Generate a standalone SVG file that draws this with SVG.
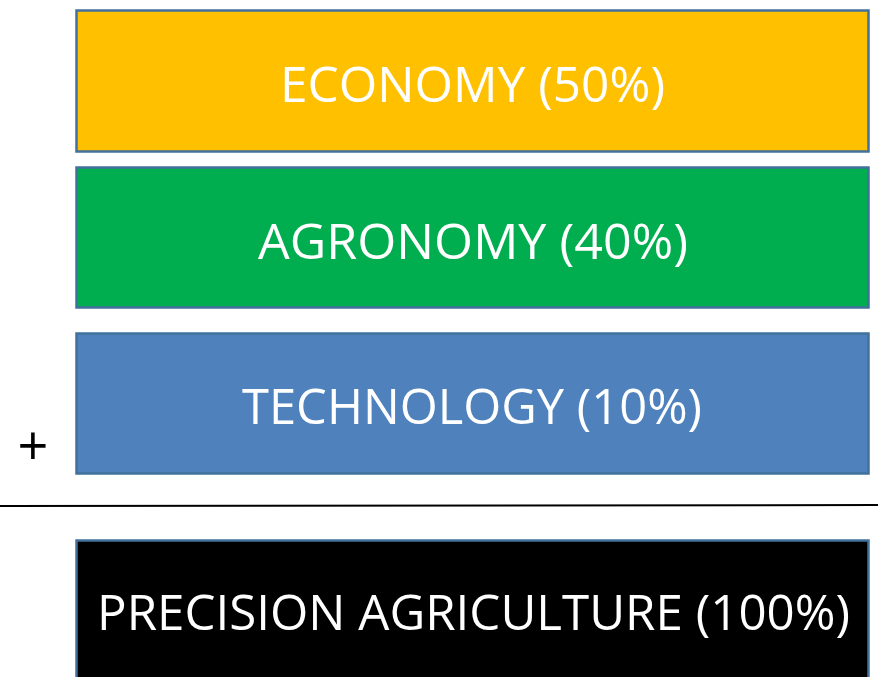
<svg xmlns="http://www.w3.org/2000/svg" width="878" height="677" viewBox="0 0 878 677">
<style>
.box{stroke:#41719C;stroke-width:2.5}
.lbl{font-family:"Open Sans","Liberation Sans",sans-serif;font-size:50px;fill:#FFFFFF;text-anchor:middle}
</style>
<rect width="878" height="677" fill="#FFFFFF"/>
<g id="economy">
<rect class="box" x="76.5" y="10.5" width="792" height="141" fill="#FFC000"/>
<text class="lbl" x="472.5" y="102" textLength="385" lengthAdjust="spacingAndGlyphs">ECONOMY (50%)</text>
</g>
<g id="agronomy">
<rect class="box" x="76.5" y="167.5" width="792" height="140" fill="#00AD4F"/>
<text class="lbl" x="473" y="259" textLength="430" lengthAdjust="spacingAndGlyphs">AGRONOMY (40%)</text>
</g>
<g id="technology">
<rect class="box" x="76.5" y="333.5" width="792" height="140" fill="#4F81BD"/>
<text class="lbl" x="472" y="424" textLength="460" lengthAdjust="spacingAndGlyphs">TECHNOLOGY (10%)</text>
</g>
<g id="plus">
<text x="33" y="465" font-family="Open Sans, Liberation Sans, sans-serif" font-size="54" fill="#000000" text-anchor="middle">+</text>
</g>
<g id="connectors">
<line x1="0" y1="506" x2="878" y2="505" stroke="#000000" stroke-width="2"/>
</g>
<g id="precision">
<rect class="box" x="76.5" y="540.5" width="792" height="150" fill="#000000"/>
<text class="lbl" x="473.5" y="630" textLength="753" lengthAdjust="spacingAndGlyphs">PRECISION AGRICULTURE (100%)</text>
</g>
</svg>
